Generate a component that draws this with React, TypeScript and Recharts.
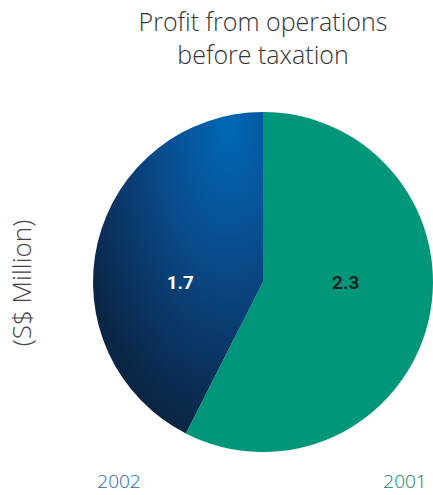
import { PieChart, Pie, Cell } from "recharts"

const years = ["2001", "2002"]
const profit = [2.3, 1.7]
const sliceColors = ["#00967a", "url(#blueShade)"]
const yearColors = ["#0f8063", "#2567b3"]
const labelColors = ["#222222", "#ffffff"]

const data = years.map((year, i) => ({ name: year, value: profit[i] }))

const RADIAN = Math.PI / 180

function renderLabel(props: any) {
  const { cx, cy, midAngle, outerRadius, index, value } = props
  const x = cx + Math.cos(-midAngle * RADIAN) * outerRadius * 0.5
  return (
    <text
      x={x}
      y={cy}
      fill={labelColors[index]}
      textAnchor="middle"
      dominantBaseline="central"
      fontFamily="Roboto, sans-serif"
      fontWeight={700}
      fontSize={19}
    >
      {value.toFixed(1)}
    </text>
  )
}

export default function App() {
  return (
    <div style={{ position: "fixed", left: 0, top: 0, width: 433, height: 495, background: "#fff", overflow: "hidden" }}>
      <div
        style={{
          position: "absolute",
          left: 93,
          width: 340,
          top: 5,
          textAlign: "center",
          fontFamily: "'Open Sans', sans-serif",
          fontWeight: 300,
          fontSize: 25,
          lineHeight: "33px",
          color: "#333",
        }}
      >
        Profit from operations
        <br />
        before taxation
      </div>
      <div
        style={{
          position: "absolute",
          left: 21,
          top: 283,
          transform: "translate(-50%, -50%) rotate(-90deg)",
          whiteSpace: "nowrap",
          fontFamily: "'Open Sans', sans-serif",
          fontWeight: 300,
          fontSize: 26,
          color: "#444",
        }}
      >
        (S$ Million)
      </div>
      <PieChart
        width={433}
        height={495}
        margin={{ top: 0, right: 0, bottom: 0, left: 0 }}
        style={{ position: "absolute", left: 0, top: 0 }}
      >
        <defs>
          <radialGradient id="blueShade" cx="0.8" cy="0.05" r="0.95">
            <stop offset="0%" stopColor="#0068b5" />
            <stop offset="45%" stopColor="#0a4a8a" />
            <stop offset="100%" stopColor="#0b2545" />
          </radialGradient>
        </defs>
        <Pie
          data={data}
          dataKey="value"
          cx={263}
          cy={282}
          outerRadius={170}
          startAngle={90}
          endAngle={-270}
          stroke="none"
          label={renderLabel}
          labelLine={false}
          isAnimationActive={false}
        >
          {data.map((entry, i) => (
            <Cell key={entry.name} fill={sliceColors[i]} />
          ))}
        </Pie>
      </PieChart>
      {years.map((year, i) => (
        <div
          key={year}
          style={{
            position: "absolute",
            left: i === 0 ? 405 : 119,
            top: 481,
            transform: "translate(-50%, -50%)",
            fontFamily: "'Open Sans', sans-serif",
            fontWeight: 300,
            fontSize: 19,
            color: yearColors[i],
          }}
        >
          {year}
        </div>
      ))}
    </div>
  )
}
